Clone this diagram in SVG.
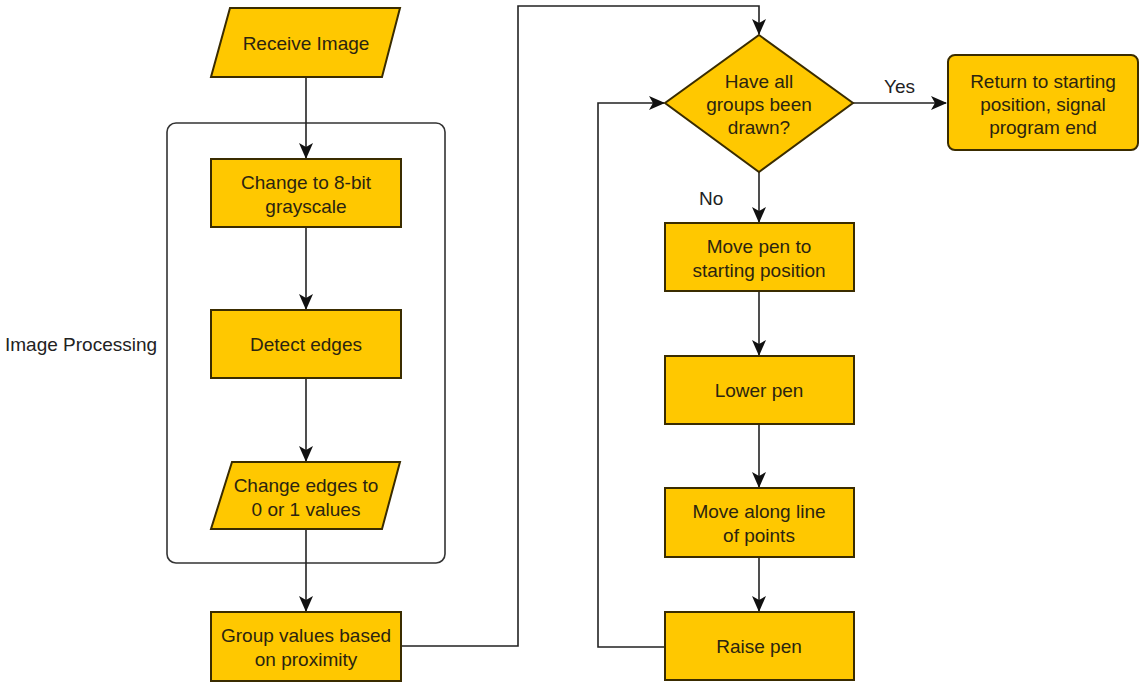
<svg xmlns="http://www.w3.org/2000/svg" width="1142" height="692" viewBox="0 0 1142 692">
<defs>
<style>
.n{fill:#FFC800;stroke:#3a2c00;stroke-width:2}
.t{font-family:"Liberation Sans",Arial,sans-serif;font-size:19px;fill:#2b2410;text-anchor:middle}
.l{font-family:"Liberation Sans",Arial,sans-serif;font-size:19px;fill:#222}
.c{fill:none;stroke:#222;stroke-width:1.6}
</style>
<marker id="a" viewBox="0 0 16 14" refX="15" refY="7" markerWidth="16" markerHeight="14" markerUnits="userSpaceOnUse" orient="auto">
<path d="M0,0 L16,7 L0,14 L4,7 Z" fill="#111"/>
</marker>
</defs>
<rect width="1142" height="692" fill="#fff"/>
<g id="container">
<rect x="167" y="123" width="278" height="440" rx="9" fill="none" stroke="#333" stroke-width="1.6"/>
<text class="l" x="5" y="351">Image Processing</text>
</g>
<g id="connectors">
<path class="c" d="M306,77 L306,158" marker-end="url(#a)"/>
<path class="c" d="M306,227 L306,309" marker-end="url(#a)"/>
<path class="c" d="M306,378 L306,461" marker-end="url(#a)"/>
<path class="c" d="M306,529 L306,611" marker-end="url(#a)"/>
<path class="c" d="M400,646 L518,646 L518,6 L759,6 L759,34" marker-end="url(#a)"/>
<path class="c" d="M853,103 L946,103" marker-end="url(#a)"/>
<path class="c" d="M759,172 L759,222" marker-end="url(#a)"/>
<path class="c" d="M759,291 L759,355" marker-end="url(#a)"/>
<path class="c" d="M759,424 L759,487" marker-end="url(#a)"/>
<path class="c" d="M759,557 L759,611" marker-end="url(#a)"/>
<path class="c" d="M665,647 L598,647 L598,103 L664,103" marker-end="url(#a)"/>
<text class="l" x="884" y="93">Yes</text>
<text class="l" x="699" y="205">No</text>
</g>
<g id="receive">
<polygon class="n" points="230,8 400,8 382,77 211,77"/>
<text class="t" x="306" y="50">Receive Image</text>
</g>
<g id="gray">
<rect class="n" x="211" y="159" width="190" height="68"/>
<text class="t" x="306" y="189">Change to 8-bit</text>
<text class="t" x="306" y="213">grayscale</text>
</g>
<g id="detect">
<rect class="n" x="211" y="310" width="190" height="68"/>
<text class="t" x="306" y="351">Detect edges</text>
</g>
<g id="binary">
<polygon class="n" points="232,462 400,462 382,529 211,529"/>
<text class="t" x="306" y="492">Change edges to</text>
<text class="t" x="306" y="516">0 or 1 values</text>
</g>
<g id="group">
<rect class="n" x="211" y="612" width="190" height="69"/>
<text class="t" x="306" y="642">Group values based</text>
<text class="t" x="306" y="666">on proximity</text>
</g>
<g id="decision">
<polygon class="n" points="759,35 853,103 759,172 665,103"/>
<text class="t" x="759" y="88">Have all</text>
<text class="t" x="759" y="111">groups been</text>
<text class="t" x="759" y="134">drawn?</text>
</g>
<g id="end">
<rect class="n" x="948" y="55" width="190" height="95" rx="7"/>
<text class="t" x="1043" y="88">Return to starting</text>
<text class="t" x="1043" y="111">position, signal</text>
<text class="t" x="1043" y="134">program end</text>
</g>
<g id="movepen">
<rect class="n" x="665" y="223" width="189" height="68"/>
<text class="t" x="759" y="253">Move pen to</text>
<text class="t" x="759" y="277">starting position</text>
</g>
<g id="lower">
<rect class="n" x="665" y="356" width="189" height="68"/>
<text class="t" x="759" y="397">Lower pen</text>
</g>
<g id="along">
<rect class="n" x="665" y="488" width="189" height="69"/>
<text class="t" x="759" y="518">Move along line</text>
<text class="t" x="759" y="542">of points</text>
</g>
<g id="raise">
<rect class="n" x="665" y="612" width="189" height="68"/>
<text class="t" x="759" y="653">Raise pen</text>
</g>
</svg>
